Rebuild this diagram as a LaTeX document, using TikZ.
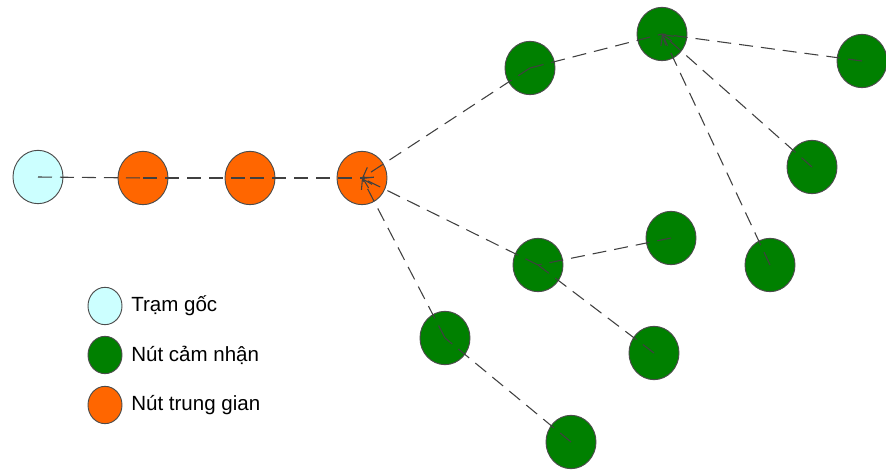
\documentclass[tikz,border=0pt]{standalone}
\usepackage{fontspec}
\setmainfont{Liberation Sans}
\usepackage{tikz}
\usetikzlibrary{arrows.meta,shapes.geometric}

\definecolor{tramcolor}{HTML}{CCFFFF}
\definecolor{relaycolor}{HTML}{FF6600}
\definecolor{sensorcolor}{HTML}{008000}
\definecolor{linkcolor}{HTML}{404040}

\tikzset{
	dot/.style={ellipse,draw=black!70,line width=0.7pt,minimum width=37.5pt,minimum height=40pt,inner sep=0pt},
	tram/.style={dot,fill=tramcolor},
	relay/.style={dot,fill=relaycolor},
	sensor/.style={dot,fill=sensorcolor},
	key/.style={minimum width=25.5pt,minimum height=28pt},
	link/.style={draw=linkcolor,line width=0.8pt,dash pattern=on 10.5pt off 6pt},
	keytext/.style={anchor=west,inner sep=0pt,font=\fontsize{15.4}{18}\selectfont}
}

\begin{document}
\begin{tikzpicture}[x=0.75pt,y=-0.75pt,>={Straight Barb[length=7pt,width=9pt]}]
	\useasboundingbox (0,0) rectangle (886,470);
	% chain from the base station
	\node[tram] (bs) at (38,177) {};
	\node[relay] (r_1) at (143,178) {};
	\node[relay] (r_2) at (250,178) {};
	\node[relay] (r_3) at (362,178) {};
	% sensor nodes
	\node[sensor] (s_1) at (530,68) {};
	\node[sensor] (s_2) at (662,34) {};
	\node[sensor] (s_3) at (862,61) {};
	\node[sensor] (s_4) at (812,167) {};
	\node[sensor] (s_5) at (770,265) {};
	\node[sensor] (s_6) at (671,238) {};
	\node[sensor] (s_7) at (538,265) {};
	\node[sensor] (s_8) at (654,353) {};
	\node[sensor] (s_9) at (445,338) {};
	\node[sensor] (s_10) at (571,442) {};
	% links, drawn centre to centre over the nodes
	\path[link]
		(bs.center) edge (r_1.center)
		(r_1.center) edge (r_2.center)
		(r_2.center) edge (r_3.center)
		(s_1.center) edge[->] (r_3.center)
		(s_7.center) edge[->] (r_3.center)
		(s_9.center) edge[->] (r_3.center)
		(s_1.center) edge (s_2.center)
		(s_3.center) edge (s_2.center)
		(s_4.center) edge[->] (s_2.center)
		(s_5.center) edge[->] (s_2.center)
		(s_6.center) edge (s_7.center)
		(s_8.center) edge (s_7.center)
		(s_10.center) edge (s_9.center);
	% legend
	\node[tram,key] (k_1) at (105,306) {};
	\node[sensor,key] (k_2) at (105,355) {};
	\node[relay,key] (k_3) at (105,405) {};
	\node[keytext] at (131,306) {Trạm gốc};
	\node[keytext] at (131,355) {Nút cảm nhận};
	\node[keytext] at (131,405) {Nút trung gian};
\end{tikzpicture}
\end{document}
